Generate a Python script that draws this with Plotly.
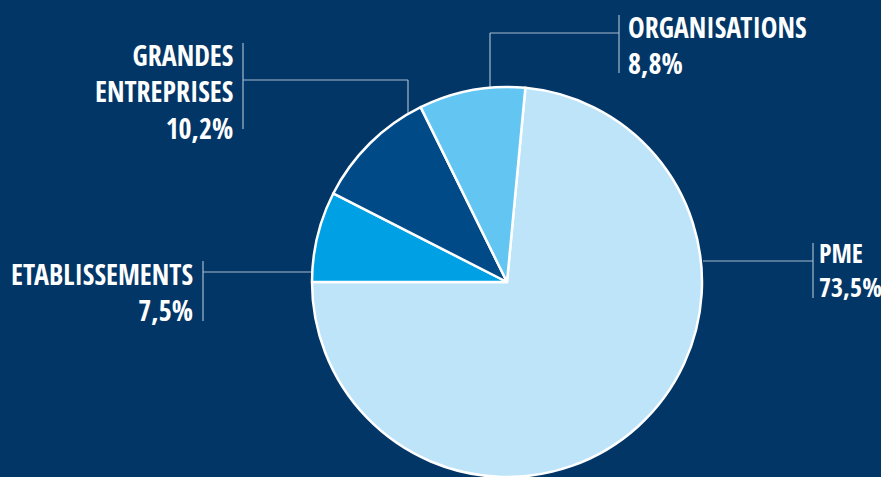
import plotly.graph_objects as go

labels = ["PME", "ETABLISSEMENTS", "GRANDES ENTREPRISES", "ORGANISATIONS"]
values = [73.5, 7.5, 10.2, 8.8]
value_text = ["73,5%", "7,5%", "10,2%", "8,8%"]
colors = ["#bee4f9", "#00a1e4", "#004a88", "#62c5f2"]

W, H = 881, 477
BG = "#023667"
LINE = "#a6b9cc"
FONT = "Open Sans Condensed, Roboto Condensed, sans-serif"

def px(x):
    return x / W

def py(y):
    return 1 - y / H

fig = go.Figure()
fig.add_trace(go.Pie(
    labels=labels,
    values=values,
    sort=False,
    direction="clockwise",
    rotation=270 - 360 * values[0] / sum(values),
    marker=dict(colors=colors, line=dict(color="white", width=2.5)),
    textinfo="none",
    hoverinfo="label+percent",
    showlegend=False,
    domain=dict(x=[px(312), px(702)], y=[0, py(87)]),
))

def seg(x0, y0, x1, y1):
    return dict(type="line", xref="paper", yref="paper",
                x0=px(x0), y0=py(y0), x1=px(x1), y1=py(y1),
                line=dict(color=LINE, width=1.2), layer="below")

shapes = [
    # GRANDES ENTREPRISES
    seg(243, 43, 243, 129), seg(243, 80, 408, 80), seg(408, 80, 408, 116),
    # ORGANISATIONS
    seg(619, 15, 619, 73), seg(490, 33, 619, 33), seg(490, 33, 490, 90),
    # ETABLISSEMENTS
    seg(203, 261, 203, 321), seg(203, 272, 313, 272),
    # PME
    seg(813, 243, 813, 298), seg(703, 261, 813, 261),
]

font = dict(family=FONT, size=28, color="white")
font_pme = dict(family=FONT, size=26, color="white")
annotations = [
    dict(text="<b>GRANDES<br>ENTREPRISES<br>" + value_text[2] + "</b>", x=px(235), y=py(34),
         xanchor="right", yanchor="top", align="right", font=font),
    dict(text="<b>" + labels[3] + "<br>" + value_text[3] + "</b>", x=px(626), y=py(6),
         xanchor="left", yanchor="top", align="left", font=font),
    dict(text="<b>" + labels[1] + "<br>" + value_text[1] + "</b>", x=px(195), y=py(253),
         xanchor="right", yanchor="top", align="right", font=font),
    dict(text="<b>" + labels[0] + "<br>" + value_text[0] + "</b>", x=px(817), y=py(233),
         xanchor="left", yanchor="top", align="left", font=font_pme),
]
for a in annotations:
    a.update(xref="paper", yref="paper", showarrow=False)

fig.update_layout(
    width=W, height=H,
    margin=dict(l=0, r=0, t=0, b=0),
    paper_bgcolor=BG, plot_bgcolor=BG,
    shapes=shapes, annotations=annotations,
)

fig.write_html("out.html", config={"displayModeBar": False},
               post_script="document.body.style.margin='0';")
